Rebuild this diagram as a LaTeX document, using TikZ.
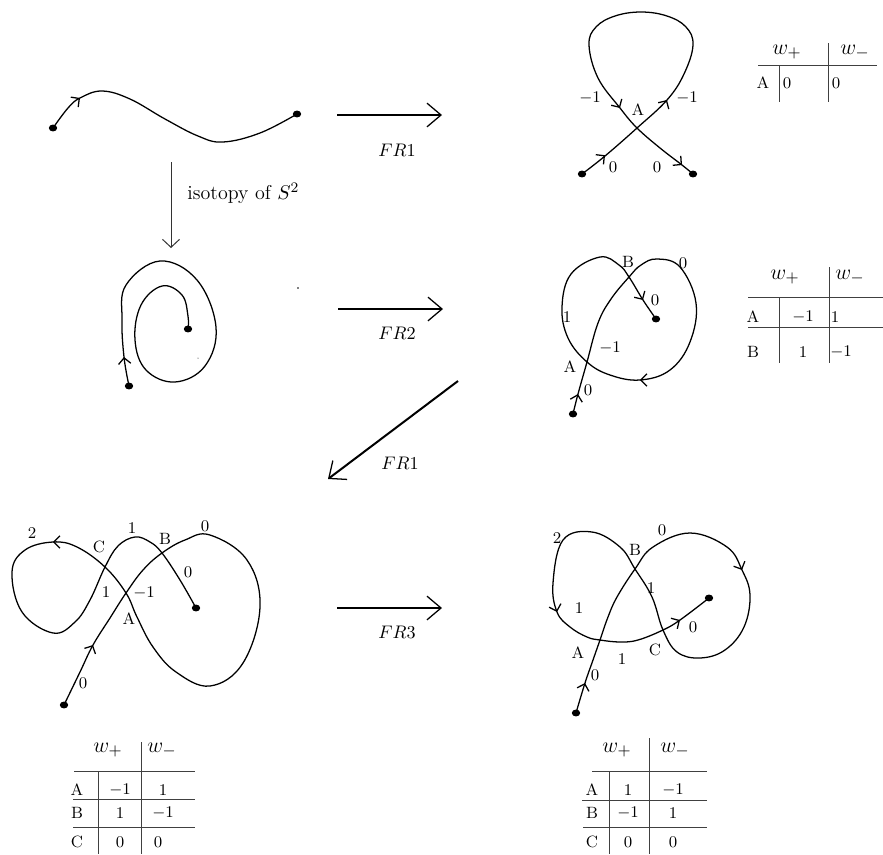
\documentclass[tikz,border=0pt]{standalone}
\usetikzlibrary{arrows.meta,shapes.geometric}

\begin{document}
\begin{tikzpicture}[
        x=0.55pt, y=-0.55pt,
        curva/.style={line width=0.7pt, smooth, tension=0.65},
        punto/.style={ellipse, fill=black, inner sep=0pt, minimum width=4.6pt, minimum height=3.8pt},
        punta/.style={line width=0.7pt, -{Straight Barb[length=3.3pt, width=6.8pt]}},
        flecha/.style={line width=1.1pt, -{Straight Barb[length=7.7pt, width=13pt, line width=0.7pt]}},
        tabla/.style={line width=0.5pt, black!75},
        cab/.style={font=\fontsize{13}{15}\selectfont, inner sep=0pt},
        etq/.style={inner sep=0pt, font=\small},
        celda/.style={font=\small}
    ]
        \useasboundingbox (0,0) rectangle (883,854);

        % Curva inicial
        \node[punto] (p1) at (53,128) {};
        \node[punto] (q1) at (297,114) {};
        \draw[curva] plot coordinates {(p1.center) (68,108) (80,98) (102,91) (130,99) (165,119) (198,136) (223,142) (260,133) (q1.center)};
        \draw[punta] (79,98.7) -- ++(1,-0.75);

        % Isotopia
        \coordinate (isoa) at (171,162);
        \coordinate (isob) at (171,248);
        \draw[line width=0.55pt, black!80, -{Straight Barb[length=4.4pt, width=9.4pt]}] (isoa) -- (isob);
        \node[anchor=west, font=\fontsize{11}{13}\selectfont] (iso) at (181,193) {isotopy of $S^2$};

        % Espiral
        \node[punto] (p2) at (129,386) {};
        \node[punto] (q2) at (188,329) {};
        \draw[curva] plot coordinates {(p2.center) (124,357) (122,320) (126,285) (160,261) (197,280) (216,327) (205,366) (175,382) (146,370) (135,340) (141,305) (162,286) (182,295) (188,316) (q2.center)};
        \draw[punta] (124.1,358) -- ++(-0.1,-1);
        \fill (298,288) circle (0.8);
        \fill (198,358) circle (0.5);

        % Flechas FR
        \coordinate (fr1a) at (337,115);
        \coordinate (fr1b) at (442,115);
        \draw[flecha] (fr1a) -- (fr1b);
        \node (fr1) at (397,150) {$FR1$};

        \coordinate (fr2a) at (338,309);
        \coordinate (fr2b) at (443,309);
        \draw[flecha] (fr2a) -- (fr2b);
        \node (fr2) at (397,333) {$FR2$};

        \coordinate (fr4a) at (458,381);
        \coordinate (fr4b) at (328,479);
        \draw[flecha] (fr4a) -- (fr4b);
        \node (fr4) at (400,463) {$FR1$};

        \coordinate (fr3a) at (337,608);
        \coordinate (fr3b) at (442,608);
        \draw[flecha] (fr3a) -- (fr3b);
        \node (fr3) at (397,632) {$FR3$};

        % Lazo FR1
        \node[punto] (p3) at (582,174) {};
        \node[punto] (q3) at (693,174) {};
        \draw[curva] plot coordinates {(p3.center) (605,156) (637,128) (667,100) (684,74) (693,45) (686,27) (667,16) (641,12) (615,16) (596,27) (589,45) (598,78) (620,108) (637,128) (660,148) (682,165) (q3.center)};
        \draw[punta] (604,156) -- ++(1,-0.8);
        \draw[punta] (666.4,101) -- ++(0.6,-1);
        \draw[punta] (619.4,107) -- ++(0.6,1);
        \draw[punta] (681,164.2) -- ++(1,0.85);
        \node[etq] (a3) at (638,110) {A};
        \node[etq] (m3a) at (590,98) {$-1$};
        \node[etq] (m3b) at (687,98) {$-1$};
        \node[etq] (c3a) at (613,167) {$0$};
        \node[etq] (c3b) at (657,167) {$0$};

        % Tabla FR1
        \node[cab] (t1p) at (787,52) {$w_+$};
        \node[cab] (t1m) at (855,52) {$w_-$};
        \draw[tabla] (758,65) -- (877,65);
        \draw[tabla] (779,65) -- (779,102);
        \draw[tabla] (828,43) -- (828,102);
        \node[celda] (t1a) at (763,83) {A};
        \node[celda] (t1a1) at (787,83) {$0$};
        \node[celda] (t1a2) at (836,83) {$0$};

        % Curva FR2
        \node[punto] (p4) at (573,414) {};
        \node[punto] (q4) at (656,319) {};
        \draw[curva] plot coordinates {(p4.center) (578,394) (587,362) (598,323) (611,299) (629,277) (641,265) (657,259) (680,267) (696,303) (690,342) (670,370) (640,380) (610,375) (587,362) (568,338) (562,307) (571,274) (600,257) (619,265) (629,277) (643,300) (q4.center)};
        \draw[punta] (577.7,395) -- ++(0.25,-1);
        \draw[punta] (641,380) -- ++(-1,0);
        \draw[punta] (642.4,299) -- ++(0.6,1);
        \node[etq] (b4) at (628,262) {B};
        \node[etq] (c4a) at (683,263) {$0$};
        \node[etq] (c4b) at (655,300) {$0$};
        \node[etq] (u4) at (567,317) {$1$};
        \node[etq] (m4) at (610,348) {$-1$};
        \node[etq] (a4) at (570,367) {A};
        \node[etq] (c4c) at (588,390) {$0$};

        % Tabla FR2
        \node[cab] (t2p) at (785,277) {$w_+$};
        \node[cab] (t2m) at (850,277) {$w_-$};
        \draw[tabla] (748,297) -- (883,297);
        \draw[tabla] (748,327) -- (883,327);
        \draw[tabla] (779,297) -- (779,363);
        \draw[tabla] (829,267) -- (829,363);
        \node[celda] (t2a) at (753,317) {A};
        \node[celda] (t2a1) at (803,317) {$-1$};
        \node[celda] (t2a2) at (835,317) {$1$};
        \node[celda] (t2b) at (753,352) {B};
        \node[celda] (t2b1) at (803,352) {$1$};
        \node[celda] (t2b2) at (841,352) {$-1$};

        % Curva abajo izquierda
        \node[punto] (p5) at (64,705) {};
        \node[punto] (q5) at (196,608) {};
        \draw[curva] plot coordinates {(p5.center) (80,672) (93,645) (110,618) (126,593) (143,570) (162,553) (185,540) (210,535) (247,560) (260,607) (243,663) (210,686) (176,672) (153,647) (137,617) (126,593) (105,567) (77,547) (53,542) (25,550) (12,572) (22,612) (53,633) (75,622) (90,600) (105,567) (118,546) (135,537) (150,542) (162,553) (180,580) (q5.center)};
        \draw[punta] (92.5,646) -- ++(0.5,-1);
        \draw[punta] (54,542) -- ++(-1,0);
        \node[etq] (d5) at (32,533) {$2$};
        \node[etq] (c5) at (99,547) {C};
        \node[etq] (u5a) at (132,528) {$1$};
        \node[etq] (b5) at (165,539) {B};
        \node[etq] (c5a) at (205,526) {$0$};
        \node[etq] (c5b) at (188,572) {$0$};
        \node[etq] (u5b) at (106,592) {$1$};
        \node[etq] (m5) at (144,593) {$-1$};
        \node[etq] (a5) at (129,619) {A};
        \node[etq] (c5c) at (83,683) {$0$};

        % Tabla abajo izquierda
        \node[cab] (t3p) at (108,750) {$w_+$};
        \node[cab] (t3m) at (162,750) {$w_-$};
        \draw[tabla] (74,771) -- (195,771);
        \draw[tabla] (73,799) -- (195,799);
        \draw[tabla] (73,827) -- (195,827);
        \draw[tabla] (98,771) -- (98,854);
        \draw[tabla] (141,742) -- (141,854);
        \node[celda] (t3a) at (77,790) {A};
        \node[celda] (t3a1) at (120,790) {$-1$};
        \node[celda] (t3a2) at (163,790) {$1$};
        \node[celda] (t3b) at (77,813) {B};
        \node[celda] (t3b1) at (120,813) {$1$};
        \node[celda] (t3b2) at (163,813) {$-1$};
        \node[celda] (t3c) at (77,842) {C};
        \node[celda] (t3c1) at (120,842) {$0$};
        \node[celda] (t3c2) at (158,842) {$0$};

        % Curva abajo derecha
        \node[punto] (p6) at (576,713) {};
        \node[punto] (q6) at (709,598) {};
        \draw[curva] plot coordinates {(p6.center) (585,683) (593,660) (600,640) (608,617) (617,597) (635,569) (653,547) (690,533) (727,547) (742,570) (750,595) (744,627) (725,650) (700,658) (677,652) (663,630) (652,597) (635,569) (620,547) (592,532) (563,540) (553,583) (557,612) (570,627) (587,637) (600,640) (620,642) (638,640) (663,630) (680,620) (q6.center)};
        \draw[punta] (741.6,569) -- ++(0.45,1);
        \draw[punta] (584.7,684) -- ++(0.3,-1);
        \draw[punta] (556.7,611) -- ++(0.3,1);
        \draw[punta] (679,620.6) -- ++(1,-0.6);
        \node[etq] (d6) at (557,538) {$2$};
        \node[etq] (c6a) at (662,530) {$0$};
        \node[etq] (b6) at (635,550) {B};
        \node[etq] (u6a) at (651,588) {$1$};
        \node[etq] (u6b) at (579,608) {$1$};
        \node[etq] (c6b) at (693,627) {$0$};
        \node[etq] (a6) at (578,653) {A};
        \node[etq] (u6c) at (622,659) {$1$};
        \node[etq] (c6) at (655,650) {C};
        \node[etq] (c6c) at (595,675) {$0$};

        % Tabla abajo derecha
        \node[cab] (t4p) at (617,750) {$w_+$};
        \node[cab] (t4m) at (675,750) {$w_-$};
        \draw[tabla] (592,771) -- (707,771);
        \draw[tabla] (582,800) -- (707,800);
        \draw[tabla] (583,827) -- (707,827);
        \draw[tabla] (609,771) -- (609,854);
        \draw[tabla] (649,738) -- (649,854);
        \node[celda] (t4a) at (592,790) {A};
        \node[celda] (t4a1) at (628,790) {$1$};
        \node[celda] (t4a2) at (673,790) {$-1$};
        \node[celda] (t4b) at (592,813) {B};
        \node[celda] (t4b1) at (628,813) {$-1$};
        \node[celda] (t4b2) at (673,813) {$1$};
        \node[celda] (t4c) at (592,842) {C};
        \node[celda] (t4c1) at (628,842) {$0$};
        \node[celda] (t4c2) at (673,842) {$0$};
    \end{tikzpicture}
\end{document}
